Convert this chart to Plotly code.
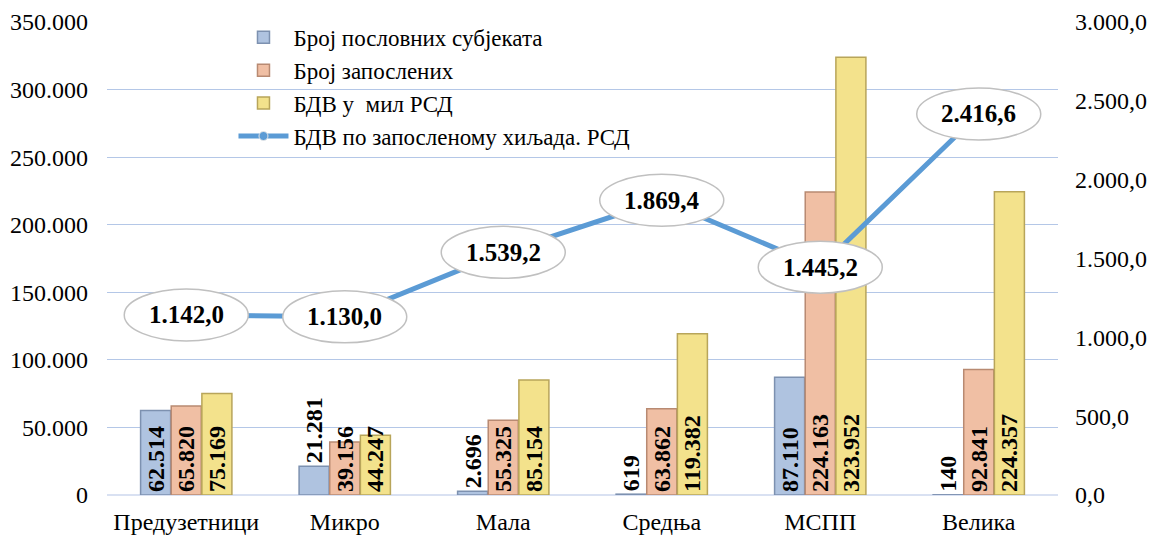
import plotly.graph_objects as go

# Categories by enterprise size
categories = ["Предузетници", "Микро", "Мала", "Средња", "МСПП", "Велика"]

# Series values
firms = [62514, 21281, 2696, 619, 87110, 140]            # Број пословних субјеката
employees = [65820, 39156, 55325, 63862, 224163, 92841]  # Број запослених
gva = [75169, 44247, 85154, 119382, 323952, 224357]      # БДВ у мил РСД
gva_per_emp = [1142.0, 1130.0, 1539.2, 1869.4, 1445.2, 2416.6]  # БДВ по запосленому

left_ticks = [0, 50000, 100000, 150000, 200000, 250000, 300000, 350000]
right_ticks = [0, 500, 1000, 1500, 2000, 2500, 3000]

SERIF = "Times New Roman"


def fmt_int(v):
    return f"{v:,}".replace(",", ".")


def fmt_dec(v):
    return f"{v:,.1f}".replace(",", "#").replace(".", ",").replace("#", ".")


def positions(vals, limit=30000):
    # very short bars get their label above the bar
    return ["inside" if v >= limit else "outside" for v in vals]


fig = go.Figure()

bar_specs = [
    ("Број пословних субјеката", firms, "#AFC3E0", "#7D91B0"),
    ("Број запослених", employees, "#F0BFA4", "#B88A72"),
    ("БДВ у\u00a0 мил РСД", gva, "#F3E28C", "#B8A55A"),
]
for name, vals, fill, edge in bar_specs:
    fig.add_trace(go.Bar(
        x=categories, y=vals, name=name,
        marker=dict(color=fill, line=dict(color=edge, width=1.5)),
        text=[fmt_int(v) for v in vals],
        textposition=positions(vals),
        insidetextanchor="start",
        textangle=-90,
        constraintext="none",
        cliponaxis=False,
        textfont=dict(family=SERIF, size=24, color="black", weight="bold"),
        yaxis="y",
    ))

fig.add_trace(go.Scatter(
    x=categories, y=gva_per_emp, name="БДВ по запосленому хиљада. РСД",
    mode="lines+markers",
    line=dict(color="#5B9BD5", width=5),
    marker=dict(color="#5B9BD5", size=9, line=dict(color="#E8E8E8", width=1)),
    yaxis="y2",
))

# Oval value labels on the line
for cat, v in zip(categories, gva_per_emp):
    fig.add_shape(
        type="circle", xref="x", yref="y2",
        xsizemode="pixel", ysizemode="pixel",
        xanchor=cat, yanchor=v,
        x0=-62, x1=62, y0=-26, y1=26,
        fillcolor="white", line=dict(color="#C0C0C0", width=1.5),
        layer="above",
    )
    fig.add_annotation(
        x=cat, y=v, xref="x", yref="y2",
        text=f"<b>{fmt_dec(v)}</b>", showarrow=False,
        font=dict(family=SERIF, size=25, color="black"),
    )

fig.update_layout(
    width=1154, height=536,
    margin=dict(l=107, r=96, t=22, b=41),
    paper_bgcolor="white", plot_bgcolor="white",
    separators=",.",
    barmode="group", bargap=0.42, bargroupgap=0.02,
    font=dict(family=SERIF, size=24, color="black"),
    showlegend=True,
    legend=dict(
        x=0.133, y=1.013, xanchor="left", yanchor="top",
        bgcolor="rgba(0,0,0,0)", font=dict(family=SERIF, size=23),
        itemwidth=50, tracegroupgap=0,
    ),
    xaxis=dict(
        type="category", showgrid=False, showline=False, ticks="",
        tickfont=dict(family=SERIF, size=24), ticklabelstandoff=10,
        automargin=False,
    ),
    yaxis=dict(
        range=[0, 350000], tickvals=left_ticks, tickformat=",d",
        showgrid=True, gridcolor="#B4C7E7", gridwidth=1.3,
        zeroline=True, zerolinecolor="#D9E1F2", zerolinewidth=1.5,
        showline=False, ticks="", tickfont=dict(family=SERIF, size=24),
        ticklabelstandoff=18, automargin=False,
    ),
    yaxis2=dict(
        range=[0, 3000], tickvals=right_ticks, tickformat=",.1f",
        overlaying="y", side="right", showgrid=False, zeroline=False,
        showline=False, ticks="", tickfont=dict(family=SERIF, size=24),
        ticklabelstandoff=16, automargin=False,
    ),
)

fig.write_html("out.html")
